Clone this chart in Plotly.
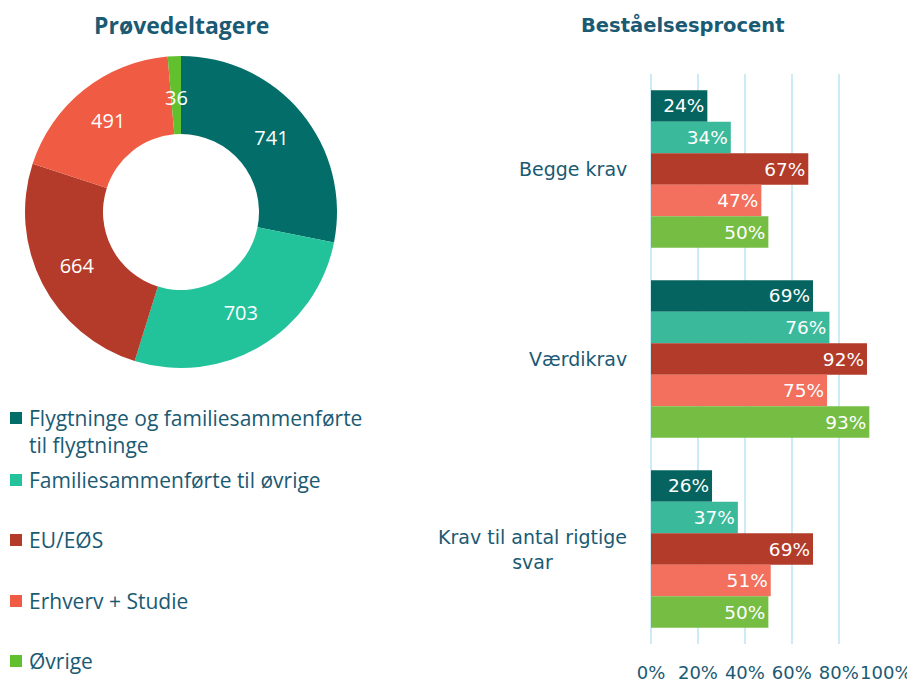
import plotly.graph_objects as go

# data
groups = [
    "Flygtninge og familiesammenførte<br>til flygtninge",
    "Familiesammenførte til øvrige",
    "EU/EØS",
    "Erhverv + Studie",
    "Øvrige",
]
participants = [741, 703, 664, 491, 36]

categories = ["Begge krav", "Værdikrav", "Krav til antal rigtige<br>svar"]
pass_flygtninge = [24, 69, 26]
pass_familie = [34, 76, 37]
pass_eu = [67, 92, 69]
pass_erhverv = [47, 75, 51]
pass_ovrige = [50, 93, 50]
pass_rates = [pass_flygtninge, pass_familie, pass_eu, pass_erhverv, pass_ovrige]

tick_vals = [0, 0.2, 0.4, 0.6, 0.8, 1.0]
tick_text = ["0%", "20%", "40%", "60%", "80%", "100%"]

DONUT_COLORS = ["#036e69", "#22c29b", "#b43b29", "#f05c43", "#62c02e"]
BAR_COLORS = ["#05645f", "#3bba9b", "#b23b29", "#f2705d", "#76bd44"]
TEXT_COLOR = "#1b5a73"

# page body keeps an 8px margin, so the figure is 8px smaller and offset
OFF = 8
W, H = 915 - OFF, 683 - OFF


def px_x(x):
    return (x - OFF) / W


def px_y(y):
    return 1 - (y - OFF) / H


fig = go.Figure()

# donut
text_pos = ["inside"] * (len(participants) - 1) + ["none"]
fig.add_trace(go.Pie(
    values=participants,
    labels=[g.replace("<br>", " ") for g in groups],
    hole=0.5,
    sort=False,
    direction="clockwise",
    rotation=0,
    marker=dict(colors=DONUT_COLORS, line=dict(width=0)),
    textinfo="value",
    textposition=text_pos,
    insidetextorientation="horizontal",
    textfont=dict(family="Open Sans", size=20, color="white"),
    domain=dict(x=[px_x(25), px_x(337)], y=[px_y(368), px_y(56)]),
    showlegend=False,
))

# bars
for name, vals, color in zip(groups, pass_rates, BAR_COLORS):
    fig.add_trace(go.Bar(
        y=categories,
        x=[v / 100 for v in vals],
        orientation="h",
        name=name.replace("<br>", " "),
        marker=dict(color=color, line=dict(width=0)),
        text=[f"{v}%" for v in vals],
        textposition="inside",
        insidetextanchor="end",
        constraintext="none",
        textfont=dict(family="DejaVu Sans", size=18.5, color="white"),
        showlegend=False,
    ))

annotations = [
    dict(text="<b>Prøvedeltagere</b>", x=px_x(181), y=px_y(25), xref="paper", yref="paper",
         xanchor="center", yanchor="middle", showarrow=False,
         font=dict(family="Open Sans", size=23, color=TEXT_COLOR)),
    dict(text="<b>Beståelsesprocent</b>", x=px_x(682), y=px_y(25), xref="paper", yref="paper",
         xanchor="center", yanchor="middle", showarrow=False,
         font=dict(family="DejaVu Sans", size=19.5, color=TEXT_COLOR)),
    # small slice label
    dict(text=str(participants[-1]), x=px_x(176), y=px_y(98), xref="paper", yref="paper",
         xanchor="center", yanchor="middle", showarrow=False,
         font=dict(family="Open Sans", size=20, color="white")),
]

for cat in categories:
    annotations.append(dict(
        text=cat, x=px_x(629), y=cat, xref="paper", yref="y",
        xanchor="right", yanchor="middle", align="center", showarrow=False,
        font=dict(family="DejaVu Sans", size=19, color=TEXT_COLOR),
    ))

# manual legend for the donut
legend_square_y = [418, 480, 540, 601, 661]
legend_text_y = [431, 480, 540, 601, 661]
shapes = []
for name, color, sy, ty in zip(groups, DONUT_COLORS, legend_square_y, legend_text_y):
    shapes.append(dict(type="rect", xref="paper", yref="paper",
                       x0=px_x(10), x1=px_x(22), y0=px_y(sy + 6), y1=px_y(sy - 6),
                       fillcolor=color, line=dict(width=0)))
    annotations.append(dict(
        text=name, x=px_x(27), y=px_y(ty), xref="paper", yref="paper",
        xanchor="left", yanchor="middle", align="left", showarrow=False,
        font=dict(family="Open Sans", size=21, color=TEXT_COLOR),
    ))

fig.update_layout(
    width=W, height=H,
    margin=dict(l=0, r=0, t=0, b=0, autoexpand=False),
    paper_bgcolor="white",
    plot_bgcolor="white",
    barmode="group",
    bargap=0.17,
    bargroupgap=0,
    xaxis=dict(
        domain=[px_x(651), px_x(886)],
        range=[0, 1.001],
        tickvals=tick_vals,
        ticktext=tick_text,
        tickangle=0,
        automargin=False,
        showgrid=True, gridcolor="#cdebf7", gridwidth=2,
        zeroline=True, zerolinecolor="#cdebf7", zerolinewidth=2,
        showline=False,
        ticks="",
        ticklabelstandoff=16,
        tickfont=dict(family="DejaVu Sans", size=18, color=TEXT_COLOR),
        fixedrange=True,
    ),
    yaxis=dict(
        domain=[px_y(644), px_y(74)],
        autorange="reversed",
        automargin=False,
        showticklabels=False,
        showgrid=False, zeroline=False, showline=False,
        ticks="",
        fixedrange=True,
    ),
    annotations=annotations,
    shapes=shapes,
)

fig.write_html("out.html")
